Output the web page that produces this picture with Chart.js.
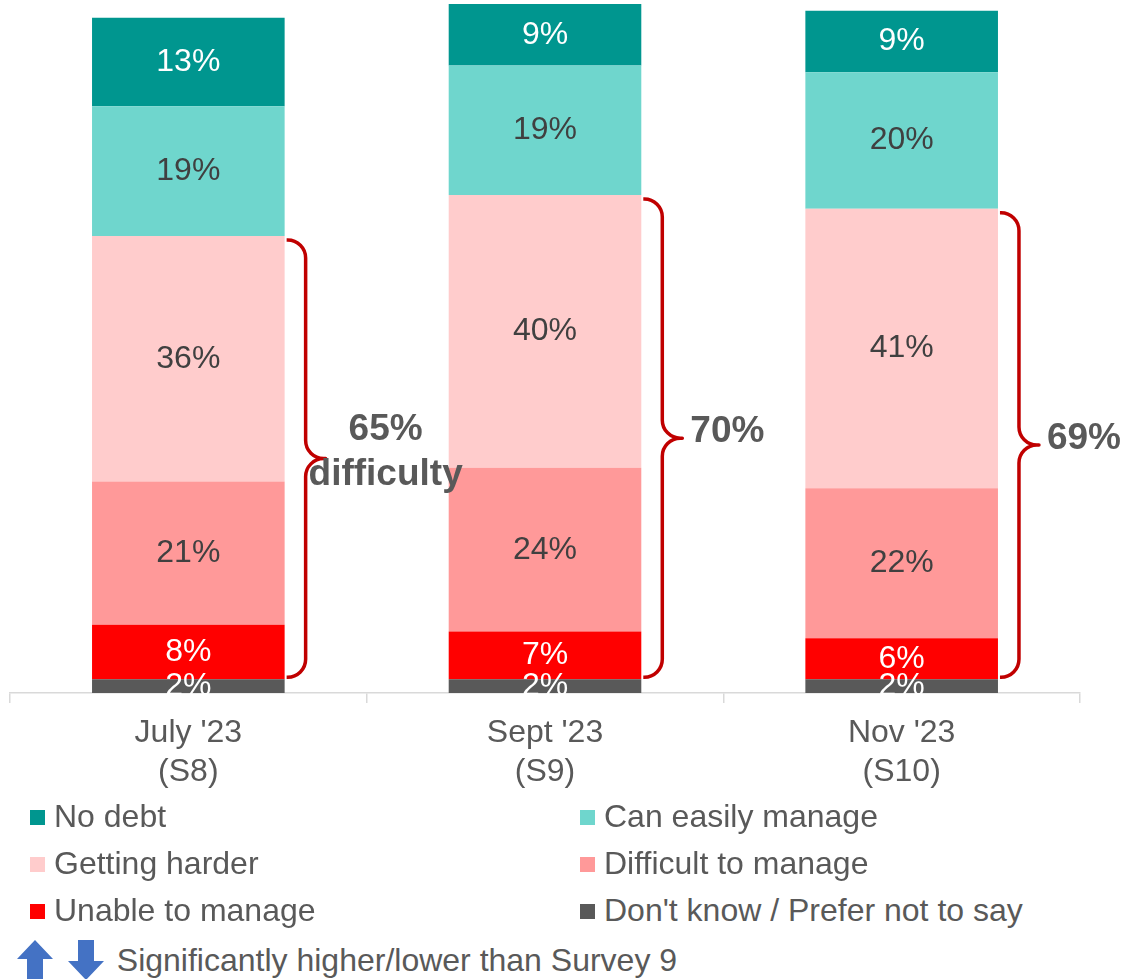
<!DOCTYPE html>
<html>
<head>
<meta charset="utf-8">
<script src="https://cdn.jsdelivr.net/npm/chart.js@4.4.0/dist/chart.umd.min.js"></script>
<style>
    html, body { margin: 0; padding: 0; background: #fff; }
    body { width: 1122px; height: 979px; position: relative; overflow: hidden;
           font-family: "Liberation Sans", Arial, sans-serif; color: #595959; }
    #wrap { position: absolute; left: 0; top: 0; width: 1122px; height: 803px; }
    .leg { position: absolute; font-size: 32px; line-height: 34px; white-space: nowrap; }
    .leg i { display: inline-block; width: 15px; height: 15px; margin-right: 9px; vertical-align: 2px; }
    #note { position: absolute; left: 17px; top: 940px; font-size: 32px; line-height: 40px; white-space: nowrap; }
    #note svg { vertical-align: top; }
</style>
</head>
<body>
<div id="wrap"><canvas id="debtChart"></canvas></div>
<div id="legend"></div>
<div id="note">
    <svg width="36" height="40" viewBox="0 0 36 40"><path d="M18 0 L36 19 L26 19 L26 40 L10 40 L10 19 L0 19 Z" fill="#4472C4"/></svg>
    <svg width="36" height="40" viewBox="0 0 36 40" style="margin-left:6px"><path d="M10 0 L26 0 L26 21 L36 21 L18 40 L0 21 L10 21 Z" fill="#4472C4"/></svg>
    <span style="margin-left:4px">Significantly higher/lower than Survey 9</span>
</div>

<script>
// Dados do gráfico (empilhado de baixo para cima)
const categorias = [["July '23", '(S8)'], ["Sept '23", '(S9)'], ["Nov '23", '(S10)']];
const naoSabe    = [2, 2, 2];
const incapaz    = [8, 7, 6];
const dificil    = [21, 24, 22];
const maisDificil = [36, 40, 41];
const facil      = [19, 19, 20];
const semDivida  = [13, 9, 9];
const rotulosChave = ['65%\ndifficulty', '70%', '69%'];

const series = [
    { label: "Don't know / Prefer not to say", data: naoSabe, cor: '#595959', texto: '#ffffff' },
    { label: 'Unable to manage', data: incapaz, cor: '#ff0000', texto: '#ffffff' },
    { label: 'Difficult to manage', data: dificil, cor: '#ff9999', texto: '#404040' },
    { label: 'Getting harder', data: maisDificil, cor: '#ffcccc', texto: '#404040' },
    { label: 'Can easily manage', data: facil, cor: '#6fd6cd', texto: '#404040' },
    { label: 'No debt', data: semDivida, cor: '#00968f', texto: '#ffffff' }
];

// Legenda em duas colunas
const ordemLegenda = ['No debt', 'Can easily manage', 'Getting harder', 'Difficult to manage', 'Unable to manage', "Don't know / Prefer not to say"];
const legenda = document.getElementById('legend');
ordemLegenda.forEach(function (nome, i) {
    const s = series.find(function (x) { return x.label === nome; });
    const el = document.createElement('div');
    el.className = 'leg';
    el.style.left = (i % 2 === 0 ? 30 : 580) + 'px';
    el.style.top = (799 + Math.floor(i / 2) * 47) + 'px';
    el.innerHTML = '<i style="background:' + s.cor + '"></i>' + nome;
    legenda.appendChild(el);
});

// Rótulos de valor dentro das barras
const rotulosValor = {
    id: 'rotulosValor',
    afterDatasetsDraw(chart) {
        const ctx = chart.ctx;
        ctx.save();
        ctx.font = '32px "Liberation Sans", Arial, sans-serif';
        ctx.textAlign = 'center';
        ctx.textBaseline = 'middle';
        chart.data.datasets.forEach(function (ds, d) {
            chart.getDatasetMeta(d).data.forEach(function (bar, i) {
                ctx.fillStyle = series[d].texto;
                ctx.fillText(ds.data[i] + '%', bar.x, (bar.y + bar.base) / 2);
            });
        });
        ctx.restore();
    }
};

// Chaves vermelhas agrupando as três categorias de dificuldade
const chaves = {
    id: 'chaves',
    afterDatasetsDraw(chart) {
        const ctx = chart.ctx;
        const baixo = chart.getDatasetMeta(1).data;
        const alto = chart.getDatasetMeta(3).data;
        ctx.save();
        baixo.forEach(function (bar, i) {
            const topo = alto[i].y + 4;
            const fundo = bar.base - 2;
            const meio = (topo + fundo) / 2;
            const x0 = bar.x + bar.width / 2 + 2;
            const xv = x0 + 19;
            const xt = xv + 20;
            const r = 18;
            ctx.beginPath();
            ctx.moveTo(x0, topo);
            ctx.arcTo(xv, topo, xv, topo + r, r);
            ctx.lineTo(xv, meio - r);
            ctx.arcTo(xv, meio, xt, meio, r);
            ctx.lineTo(xt, meio);
            ctx.lineTo(xv + r, meio);
            ctx.arcTo(xv, meio, xv, meio + r, r);
            ctx.lineTo(xv, fundo - r);
            ctx.arcTo(xv, fundo, x0, fundo, r);
            ctx.lineTo(x0, fundo);
            ctx.strokeStyle = '#c00000';
            ctx.lineWidth = 3.5;
            ctx.lineJoin = 'round';
            ctx.stroke();

            const linhas = rotulosChave[i].split('\n');
            ctx.font = 'bold 37px "Liberation Sans", Arial, sans-serif';
            ctx.fillStyle = '#595959';
            ctx.textBaseline = 'middle';
            const passo = 45;
            const y0 = meio - (linhas.length - 1) * passo / 2 - 6;
            linhas.forEach(function (t, k) {
                if (linhas.length > 1) {
                    ctx.textAlign = 'center';
                    ctx.fillText(t, xt + 60, y0 + k * passo);
                } else {
                    ctx.textAlign = 'left';
                    ctx.fillText(t, xt + 8, y0 + k * passo);
                }
            });
        });
        ctx.restore();
    }
};

const ctx = document.getElementById('debtChart').getContext('2d');
const grafico = new Chart(ctx, {
    type: 'bar',
    data: {
        labels: categorias,
        datasets: series.map(function (s) {
            return {
                label: s.label,
                data: s.data,
                backgroundColor: s.cor,
                borderWidth: 0,
                barPercentage: 0.54,
                categoryPercentage: 1,
                clip: false
            };
        })
    },
    options: {
        responsive: true,
        maintainAspectRatio: false,
        animation: false,
        layout: { padding: { left: 10, right: 42, top: 4, bottom: 0 } },
        plugins: {
            legend: { display: false },
            tooltip: { enabled: false }
        },
        scales: {
            x: {
                stacked: true,
                grid: { drawOnChartArea: false, color: '#d9d9d9', tickLength: 10, lineWidth: 1.5 },
                border: { color: '#d9d9d9', width: 1.5 },
                ticks: {
                    color: '#595959',
                    padding: 11,
                    font: { family: '"Liberation Sans", Arial, sans-serif', size: 32, lineHeight: 1.22 }
                }
            },
            y: {
                stacked: true,
                display: false,
                min: 0,
                max: 101
            }
        }
    },
    plugins: [rotulosValor, chaves]
});
</script>
</body>
</html>
